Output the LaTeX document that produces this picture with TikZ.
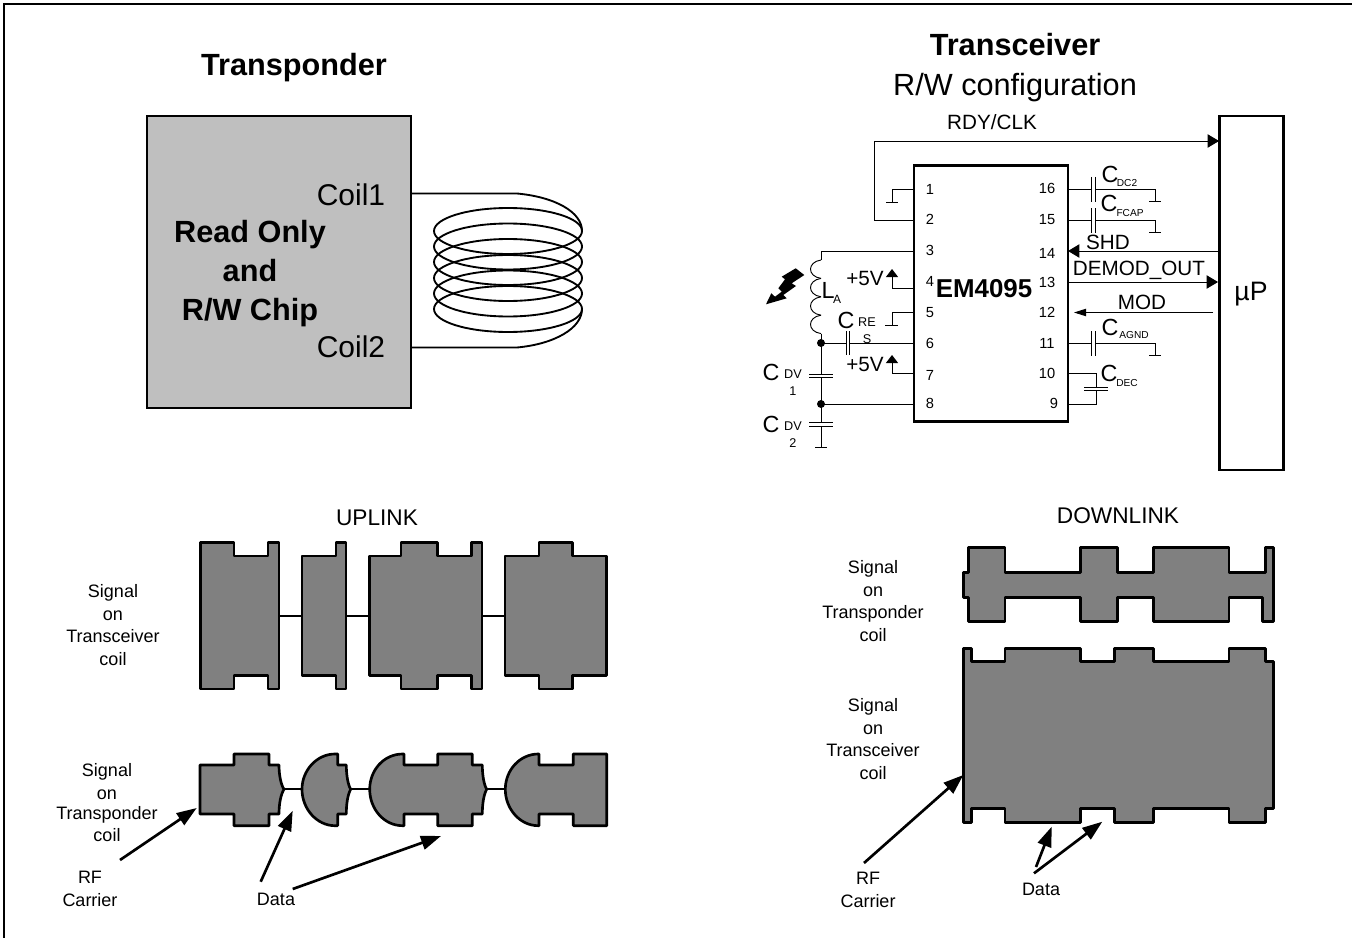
\documentclass[tikz,border=0pt]{standalone}
\usepackage{fontspec}
\setmainfont{Liberation Sans}
\usepackage{tikz}
\usetikzlibrary{arrows.meta}
\usetikzlibrary{calc}
\tikzset{
  every node/.style={inner sep=0pt,outer sep=0pt},
  wire/.style={line width=0.7pt},
  wave/.style={line width=2pt,fill=black!50,line join=round},
  big head/.style={-{Triangle[length=8.5pt,width=10pt]}},
  small head/.style={-{Triangle[length=9pt,width=5.5pt]}},
  up head/.style={-{Triangle[length=6pt,width=9pt]}},
  long head/.style={line width=2pt,-{Triangle[length=15pt,width=10.5pt]}},
  title/.style={font=\fontsize{23}{25}\selectfont,text height=16.5pt,text depth=0pt},
  btitle/.style={font=\fontsize{23}{25}\bfseries\selectfont,text height=16.5pt,text depth=0pt},
  sig/.style={font=\fontsize{13.5}{15}\selectfont,text height=9.7pt,text depth=0pt},
  pin/.style={font=\fontsize{11}{12}\selectfont,text height=7.9pt,text depth=0pt},
  lab/.style={font=\fontsize{15.5}{17}\selectfont,text height=11.1pt,text depth=0pt},
  capc/.style={font=\fontsize{17.5}{19}\selectfont,text height=12.6pt,text depth=0pt},
  sub/.style={font=\fontsize{7.6}{9}\selectfont,text height=5.5pt,text depth=0pt},
  mid/.style={font=\fontsize{9.5}{11}\selectfont,text height=6.8pt,text depth=0pt}
}
\begin{document}
\begin{tikzpicture}[x=0.75pt,y=-0.75pt]
\useasboundingbox (0,0) rectangle (1352,938);
\draw [line width=1.5pt] (4.3,938) -- (4.3,4.3) -- (1352,4.3);

% transponder
\node (ttitle) at (294,65) [btitle] {Transponder};
\node (chipbox) at (279,262) [draw,fill=black!25,line width=1.9pt,minimum width=198pt,minimum height=219pt] {};
\node (readonly) at (250,231) [btitle] {Read Only};
\node (readand) at (250,270) [btitle] {and};
\node (readchip) at (250,309) [btitle] {R/W Chip};
\node (coilone) at (351,194) [title,font=\fontsize{22.5}{25}\selectfont] {Coil1};
\node (coiltwo) at (351,346) [title,font=\fontsize{22.5}{25}\selectfont] {Coil2};
\foreach \y in {231,246.5,262,278,293.5,309} {
\draw [line width=1.4pt] (508,\y) ellipse [x radius=74,y radius=23];
}
\coordinate (ca) at (411,193.5);
\coordinate (cb) at (411,347.5);
\coordinate (cr) at (582,231);
\coordinate (cs) at (582,309);
\draw [line width=1.4pt] (ca) -- (517,193.5) .. controls (555,197) and (582,212) .. (cr);
\draw [line width=1.4pt] (cb) -- (517,347.5) .. controls (555,344) and (582,328) .. (cs);

% transceiver
\node (rtitle) at (1015,45) [btitle] {Transceiver};
\node (rsub) at (1015,85) [title] {R/W configuration};
\node (rdy) at (992,122) [lab] {RDY/CLK};
\node (em) at (991,293.5) [draw,line width=2.1pt,minimum width=115.5pt,minimum height=192.5pt] {};
\node (emname) at (984,288) [font=\fontsize{19.4}{21}\bfseries\selectfont,text height=13.9pt,text depth=0pt] {EM4095};
\node (up) at (1251.5,293) [draw,line width=2.1pt,minimum width=48pt,minimum height=265.5pt] {};
\node (upname) at (1251,291) [font=\fontsize{20}{22}\selectfont,text height=14.3pt,text depth=0pt] {µP};

\foreach \n / \y / \t in {1/189/189, 2/220/219, 3/251/250, 4/288/281, 5/312/312, 6/343/343, 7/373/375, 8/404/403} {
\coordinate (p\n) at (914,\y);
\node (n\n) at (930,\t) [pin] {\n};
}
\foreach \n / \y / \t in {16/189/188, 15/220/219, 14/251/253, 13/282/282, 12/312/312, 11/343/343, 10/373/373} {
\coordinate (p\n) at (1068,\y);
\node (n\n) at (1047,\t) [pin] {\n};
}
\coordinate (p9) at (1068,404);
\node (n9) at (1054,403) [pin] {9};

% left side
\draw [wire,big head] (p2) -- (874,220) -- (874,141) -- (1219,141);
\draw [wire] (p1) -- (892,189) -- (892,202);
\draw [wire] (886,202) -- (898,202);
\draw [wire] (p5) -- (892,312) -- (892,325);
\draw [wire] (885,325) -- (898,325);
\draw [wire,up head] (p4) -- (892,288) -- (892,269);
\draw [wire,up head] (p7) -- (892,373) -- (892,355);
\node (vone) at (865,278) [lab] {+5V};
\node (vtwo) at (865,364) [lab] {+5V};

\coordinate (la) at (821,260);
\coordinate (ld) at (821,343);
\coordinate (le) at (821,404);
\draw [wire] (p3) -- (821,251) -- (la);
\foreach \y in {260,278.4,296.8,315.2} {
\draw [wire] (821,\y) .. controls (807,\y+2) and (807,\y+16.4) .. (821,\y+18.4);
}
\draw [wire] (821,333.6) -- (ld);
\draw [wire] (ld) -- (821,374);
\draw [wire] (821,377.5) -- (821,422.5);
\draw [wire] (821,426) -- (821,447);
\draw [wire] (815,447) -- (827,447);
\foreach \y in {374,377.5,422.5,426} {
\draw [wire] (809,\y) -- (833,\y);
}
\draw [wire] (le) -- (p8);
\draw [wire] (ld) -- (846,343);
\draw [wire] (849.5,343) -- (p6);
\draw [wire] (846,331) -- (846,355);
\draw [wire] (849.5,331) -- (849.5,355);
\fill (ld) circle [radius=4];
\fill (le) circle [radius=4];
\fill (766,304.3) -- (786.7,298.3) -- (783.3,295) -- (796,286) -- (791.7,283.3) -- (804.3,275) -- (795.7,268.3) -- (781.7,276.7) -- (785,279.3) -- (778.3,288.3) -- (781.7,291.7) -- (775,296.7) -- (771.3,293.3) -- cycle;

\node (lal) at (828,290) [capc] {L};
\node (las) at (837,300) [sub,font=\fontsize{9}{10}\selectfont] {A};
\node (cres) at (846,320) [capc] {C};
\node (cresa) at (867,322) [mid] {RE};
\node (cresb) at (867,339) [mid] {S};
\node (cdva) at (771,372) [capc] {C};
\node (cdvb) at (793,374) [mid] {DV};
\node (cdvc) at (793,391) [mid] {1};
\node (cdvd) at (771,424) [capc] {C};
\node (cdve) at (793,426) [mid] {DV};
\node (cdvf) at (793,443) [mid] {2};

% right side
\foreach \n / \y in {16/189, 15/220, 11/343} {
\draw [wire] (p\n) -- (1091,\y);
\draw [wire] (1091,\y-12) -- (1091,\y+12.5);
\draw [wire] (1095,\y-12) -- (1095,\y+12.5);
\draw [wire] (1095,\y) -- (1155,\y) -- (1155,\y+12.5);
\draw [wire] (1149,\y+12.5) -- (1161,\y+12.5);
}
\draw [wire] (p10) -- (1096,373) -- (1096,387);
\draw [wire] (1096,390.5) -- (1096,404) -- (p9);
\draw [wire] (1084,387) -- (1108,387);
\draw [wire] (1084,390.5) -- (1108,390.5);
\draw [wire,big head] (1218,251) -- (p14);
\draw [wire,big head] (p13) -- (1218,282);
\coordinate (modend) at (1074,312.5);
\draw [wire,small head] (1213,312.5) -- (modend);

\node (shd) at (1108,242) [lab] {SHD};
\node (demod) at (1139,268) [lab] {DEMOD\_OUT};
\node (mod) at (1142,302) [lab] {MOD};
\node (cdc) at (1110,174) [capc] {C};
\node (cdcs) at (1127,183) [sub] {DC2};
\node (cf) at (1109,203) [capc] {C};
\node (cfs) at (1130,213) [sub] {FCAP};
\node (cag) at (1110,327) [capc] {C};
\node (cags) at (1134,335) [sub] {AGND};
\node (cde) at (1109,373) [capc] {C};
\node (cdes) at (1127,383) [sub] {DEC};

% uplink
\node (uplink) at (377,517) [font=\fontsize{17}{19}\selectfont,text height=12.2pt,text depth=0pt] {UPLINK};
\foreach \s / \y / \n in {Signal/591/a, on/614/b, Transceiver/636/c, coil/659/d} {
\node (ut\n) at (113,\y) [sig] {\s};
}
\foreach \s / \y / \n in {Signal/770/a, on/793/b, Transponder/813/c, coil/835/d} {
\node (ub\n) at (107,\y) [sig] {\s};
}
\draw [wave] (200.7,542.7) -- (234,542.7) -- (234,556) -- (268,556) -- (268,542.7) -- (279,542.7) -- (279,689) -- (268,689) -- (268,675.7) -- (234,675.7) -- (234,689) -- (200.7,689) -- cycle;
\draw [wave] (302,556) -- (336,556) -- (336,542.7) -- (346,542.7) -- (346,689) -- (336,689) -- (336,675.7) -- (302,675.7) -- cycle;
\draw [wave] (369.7,556) -- (401,556) -- (401,542.7) -- (437.7,542.7) -- (437.7,556) -- (471.7,556) -- (471.7,542.7) -- (482,542.7) -- (482,689) -- (471.7,689) -- (471.7,675.7) -- (437.7,675.7) -- (437.7,689) -- (401,689) -- (401,675.7) -- (369.7,675.7) -- cycle;
\draw [wave] (505,556) -- (539,556) -- (539,542.7) -- (572.7,542.7) -- (572.7,556) -- (606.7,556) -- (606.7,675.7) -- (572.7,675.7) -- (572.7,689) -- (539,689) -- (539,675.7) -- (505,675.7) -- cycle;
\foreach \a / \b in {279/302, 346/370, 482/505} {
\draw [line width=2.2pt] (\a,616) -- (\b,616);
}

\draw [wave] (200,765) -- (234,765) -- (234,754) -- (269,754) -- (269,765) -- (279,765) .. controls (279,775) and (281,785) .. (284,789.3) .. controls (281,794) and (279,803) .. (279,814) -- (269,814) -- (269,825.7) -- (234,825.7) -- (234,814) -- (200,814) -- cycle;
\draw [wave] (335,754) -- (337.7,754) -- (337.7,765) -- (346.3,765) .. controls (346.3,775) and (348,785) .. (350.7,789.3) .. controls (348,794) and (346.3,803) .. (346.3,814) -- (337.7,814) -- (337.7,825.7) -- (335,825.7) .. controls (317,825.7) and (302,809) .. (302,789.3) .. controls (302,770) and (317,754) .. (335,754) -- cycle;
\draw [wave] (402.7,754) -- (404,754) -- (404,765) -- (437.7,765) -- (437.7,754) -- (472.3,754) -- (472.3,765) -- (482.3,765) .. controls (482.3,775) and (484,785) .. (486.7,789.3) .. controls (484,794) and (482.3,803) .. (482.3,814) -- (472.3,814) -- (472.3,825.7) -- (437.7,825.7) -- (437.7,814) -- (404,814) -- (404,825.7) -- (402.7,825.7) .. controls (384,825.7) and (369.7,809) .. (369.7,789.3) .. controls (369.7,770) and (384,754) .. (402.7,754) -- cycle;
\draw [wave] (538.3,754) -- (539,754) -- (539,765) -- (573.3,765) -- (573.3,754) -- (606.7,754) -- (606.7,825.7) -- (573.3,825.7) -- (573.3,814) -- (539,814) -- (539,825.7) -- (538.3,825.7) .. controls (520,825.7) and (505.3,809) .. (505.3,789.3) .. controls (505.3,770) and (520,754) .. (538.3,754) -- cycle;
\foreach \a / \b in {284/302, 350.7/369.7, 486.7/505.3} {
\draw [line width=1.5pt] (\a,789.3) -- (\b,789.3);
}

\node (rfa) at (90,877) [sig] {RF};
\node (cara) at (90,900) [sig] {Carrier};
\node (dataa) at (276,899) [sig] {Data};
\coordinate (rfastart) at (120,860);
\coordinate (rfatip) at (196.7,808);
\coordinate (daa) at (260.7,881.7);
\coordinate (dab) at (292.7,889);
\coordinate (datipa) at (292.7,810.7);
\coordinate (datipb) at (441,836);
\draw [long head] (rfastart) -- (rfatip);
\draw [long head] (daa) -- (datipa);
\draw [long head] (dab) -- (datipb);

% downlink
\node (downlink) at (1118,515) [font=\fontsize{17}{19}\selectfont,text height=12.2pt,text depth=0pt] {DOWNLINK};
\foreach \s / \y / \n in {Signal/567/a, on/590/b, Transponder/612/c, coil/635/d} {
\node (dt\n) at (873,\y) [sig] {\s};
}
\foreach \s / \y / \n in {Signal/705/a, on/728/b, Transceiver/750/c, coil/773/d} {
\node (db\n) at (873,\y) [sig] {\s};
}
\draw [wave] (963.3,572.3) -- (968.3,572.3) -- (968.3,547.7) -- (1005,547.7) -- (1005,572.3) -- (1080.7,572.3) -- (1080.7,547.7) -- (1117.3,547.7) -- (1117.3,572.3) -- (1153.3,572.3) -- (1153.3,547.7) -- (1229,547.7) -- (1229,572.3) -- (1265.7,572.3) -- (1265.7,547.7) -- (1273.3,547.7) -- (1273.3,621.3) -- (1262.7,621.3) -- (1262.7,597.3) -- (1229,597.3) -- (1229,621.3) -- (1153.3,621.3) -- (1153.3,597.3) -- (1117.3,597.3) -- (1117.3,621.3) -- (1080.7,621.3) -- (1080.7,597.3) -- (1005,597.3) -- (1005,621.3) -- (968.3,621.3) -- (968.3,597.3) -- (963.3,597.3) -- cycle;
\draw [wave] (963.3,648.3) -- (971.7,648.3) -- (971.7,661.7) -- (1005,661.7) -- (1005,648.3) -- (1080.7,648.3) -- (1080.7,661.7) -- (1114.3,661.7) -- (1114.3,648.3) -- (1153.3,648.3) -- (1153.3,661.7) -- (1229,661.7) -- (1229,648.3) -- (1265.7,648.3) -- (1265.7,661.7) -- (1273.3,661.7) -- (1273.3,808.3) -- (1265.7,808.3) -- (1265.7,822.3) -- (1229,822.3) -- (1229,808.3) -- (1153.3,808.3) -- (1153.3,822.3) -- (1114.3,822.3) -- (1114.3,808.3) -- (1080.7,808.3) -- (1080.7,822.3) -- (1005,822.3) -- (1005,808.3) -- (971.7,808.3) -- (971.7,822.3) -- (963.3,822.3) -- cycle;

\node (rfb) at (868,878) [sig] {RF};
\node (carb) at (868,901) [sig] {Carrier};
\node (datab) at (1041,889) [sig] {Data};
\coordinate (rfbstart) at (864,863);
\coordinate (rfbtip) at (963.3,775);
\coordinate (dba) at (1036,867);
\coordinate (dbb) at (1034,873.3);
\coordinate (dbtipa) at (1051.7,826.7);
\coordinate (dbtipb) at (1102.3,821.7);
\draw [long head] (rfbstart) -- (rfbtip);
\draw [long head] (dba) -- (dbtipa);
\draw [long head] (dbb) -- (dbtipb);
\end{tikzpicture}
\end{document}
